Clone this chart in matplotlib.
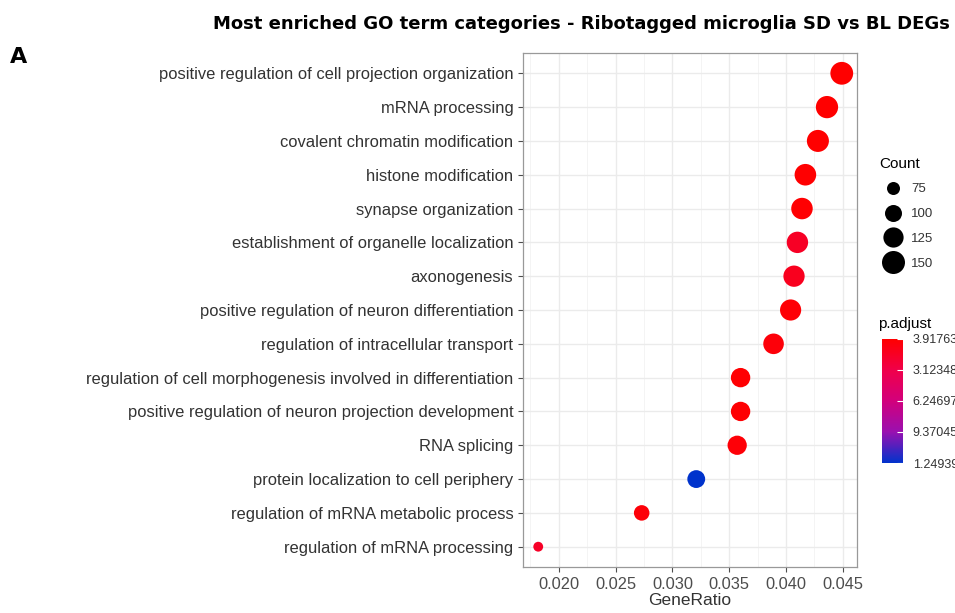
import numpy as np
import matplotlib
matplotlib.use("Agg")
import matplotlib.pyplot as plt
from matplotlib.colors import LinearSegmentedColormap, Normalize

plt.rcParams["font.family"] = ["Liberation Sans", "DejaVu Sans"]

terms = [
    "positive regulation of cell projection organization",
    "mRNA processing",
    "covalent chromatin modification",
    "histone modification",
    "synapse organization",
    "establishment of organelle localization",
    "axonogenesis",
    "positive regulation of neuron differentiation",
    "regulation of intracellular transport",
    "regulation of cell morphogenesis involved in differentiation",
    "positive regulation of neuron projection development",
    "RNA splicing",
    "protein localization to cell periphery",
    "regulation of mRNA metabolic process",
    "regulation of mRNA processing",
]
gene_ratio = [0.0449, 0.0436, 0.0428, 0.0417, 0.0414, 0.0410, 0.0407, 0.0404,
              0.0389, 0.0360, 0.0360, 0.0357, 0.0321, 0.0273, 0.0182]
counts = [148, 143, 141, 137, 136, 135, 134, 133, 128, 118, 118, 117, 106, 90, 60]
p_adjust = [3.91763e-10, 2.0e-9, 5.0e-9, 8.0e-9, 1.2e-8, 1.6e-7, 1.3e-7, 2.0e-8,
            4.0e-8, 1.5e-8, 1.8e-8, 3.0e-8, 1.24939e-6, 3.5e-8, 1.7e-7]
size_breaks = [75, 100, 125, 150]
cbar_ticks = [3.91763e-10, 3.12348e-7, 6.24697e-7, 9.37045e-7, 1.24939e-6]


def marker_area(c):
    # diameter^2 (px) grows linearly with count, converted to pt^2 at 100 dpi
    d2 = 169 + 4.8 * (np.asarray(c, dtype=float) - 75)
    return 0.5184 * d2


cmap = LinearSegmentedColormap.from_list(
    "padj", [(0, "#FF0000"), (0.25, "#F0004A"), (0.5, "#D2007C"),
             (0.75, "#9A10B0"), (1, "#0033CC")])
norm = Normalize(vmin=min(p_adjust), vmax=max(p_adjust))

fig = plt.figure(figsize=(9.55, 6.13), dpi=100)
ax = fig.add_axes([523 / 955, 46 / 613, 334 / 955, 514 / 613])

ypos = np.arange(len(terms))[::-1]
ax.scatter(gene_ratio, ypos, s=marker_area(counts), c=p_adjust, cmap=cmap,
           norm=norm, zorder=3, linewidths=0)

ax.set_yticks(ypos)
ax.set_yticklabels(terms, fontsize=11.9, color="#333333")
ax.set_ylim(-0.6, len(terms) - 0.4)
xt = [0.020, 0.025, 0.030, 0.035, 0.040, 0.045]
ax.set_xticks(xt)
ax.set_xticklabels(["%.3f" % v for v in xt], fontsize=11.8, color="#4D4D4D")
ax.set_xticks(np.arange(0.0175, 0.046, 0.005), minor=True)
ax.set_xlim(0.01686, 0.04624)
ax.grid(True, which="major", color="#EBEBEB", lw=1.0, zorder=0)
ax.grid(True, which="minor", axis="x", color="#F3F3F3", lw=0.6, zorder=0)
ax.tick_params(axis="both", which="major", color="#4D4D4D", length=3.5, width=0.8)
ax.tick_params(axis="x", which="minor", length=0)
for s in ax.spines.values():
    s.set_color("#999999")
    s.set_linewidth(0.9)
ax.set_xlabel("GeneRatio", fontsize=12.5, color="#333333", labelpad=1)

fig.text(213 / 955, 1 - 24 / 613, "Most enriched GO term categories - Ribotagged microglia SD vs BL DEGs",
         fontsize=13.0, family="DejaVu Sans", weight="semibold", ha="left", va="center")
fig.text(10 / 955, 1 - 57 / 613, "A", fontsize=16, weight="bold", family="DejaVu Sans",
         ha="left", va="center")

# size legend
handles = [ax.scatter([], [], s=marker_area(b), color="black", linewidths=0) for b in size_breaks]
leg = fig.legend(handles, [str(b) for b in size_breaks], title="Count",
                 loc="upper left", bbox_to_anchor=(873 / 955, 1 - 150 / 613),
                 frameon=False, fontsize=9.5, title_fontsize=11, labelspacing=0.95,
                 handletextpad=0.4, borderpad=0, alignment="left", scatteryoffsets=[0.5])
for t in leg.get_texts():
    t.set_color("#333333")

# colour bar
cax = fig.add_axes([882 / 955, 1 - 463 / 613, 21 / 955, 124 / 613])
sm = plt.cm.ScalarMappable(norm=norm, cmap=cmap)
cb = fig.colorbar(sm, cax=cax)
cb.outline.set_visible(False)
cax.invert_yaxis()
cb.set_ticks(cbar_ticks)
cb.set_ticklabels(["%.5e" % v for v in cbar_ticks])
cax.tick_params(length=4, color="white", direction="in", labelsize=9, labelcolor="#333333", pad=7)
fig.text(878 / 955, 1 - 324 / 613, "p.adjust", fontsize=11, ha="left", va="center")

fig.savefig("out.png", dpi=100)
